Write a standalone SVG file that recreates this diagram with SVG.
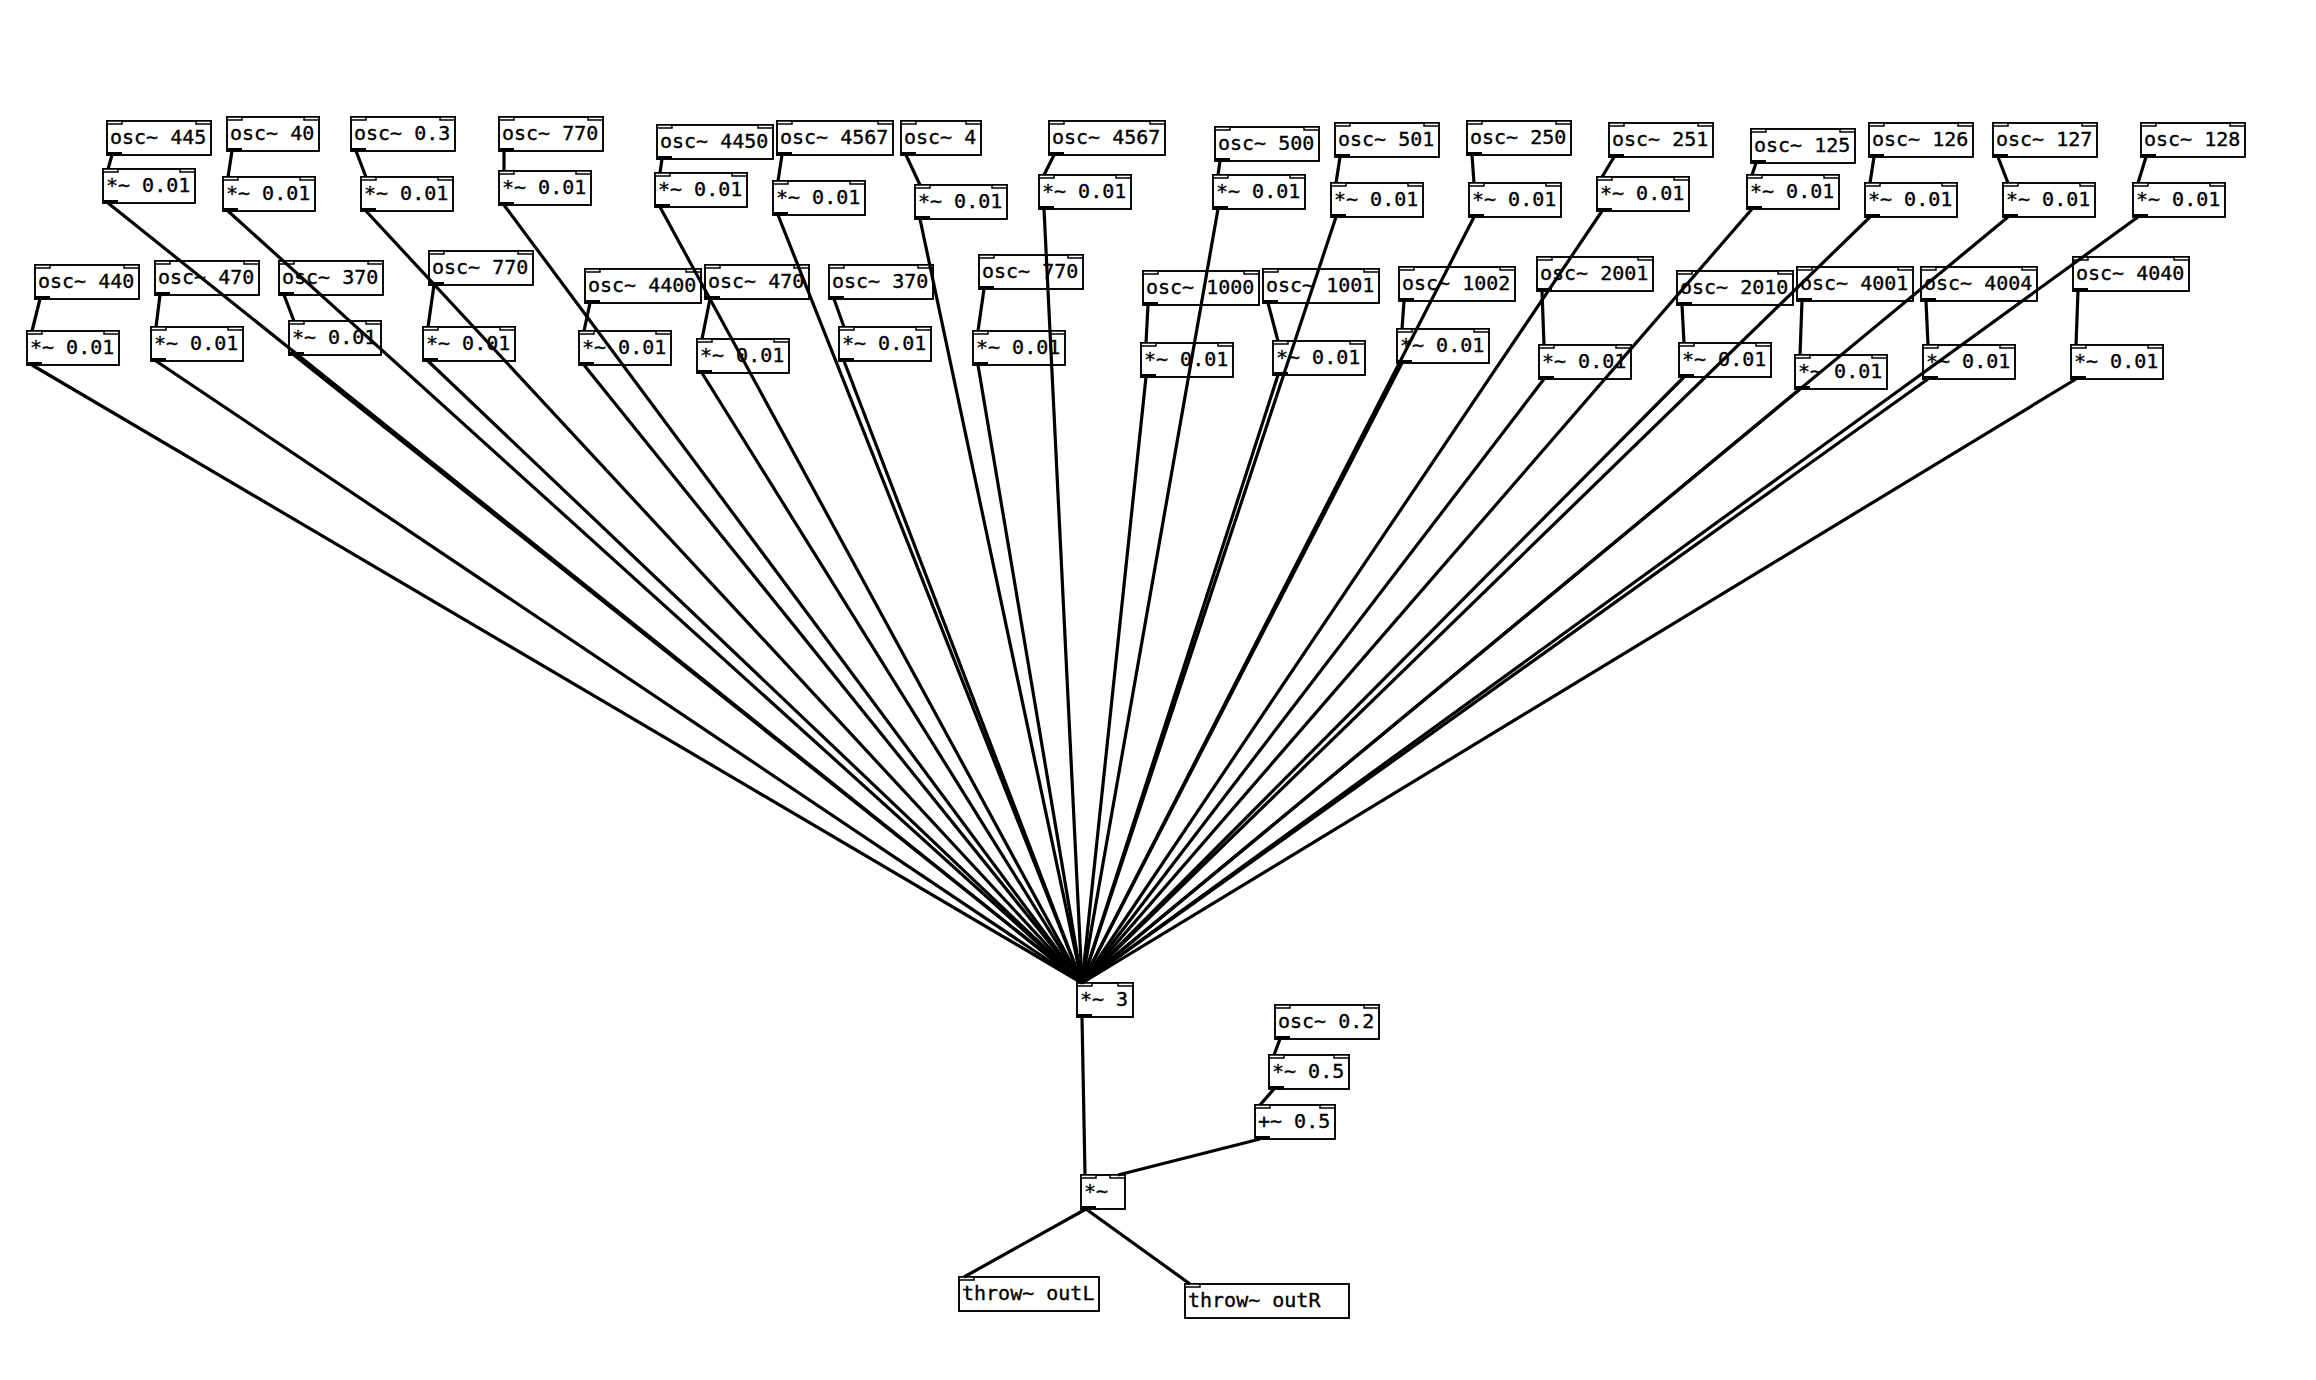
<svg xmlns="http://www.w3.org/2000/svg" width="2316" height="1380" viewBox="0 0 2316 1380">
<style>
.b{fill:#fff;stroke:#000;stroke-width:1.9}
.i{fill:#fff;stroke:#000;stroke-width:1.5}
.o{fill:#000}
text{font-family:"DejaVu Sans Mono","Liberation Mono",monospace;font-size:20px;fill:#000;stroke:#000;stroke-width:0.35}
#connections line{stroke:#000;stroke-width:3.2;stroke-linecap:butt}
</style>
<rect width="2316" height="1380" fill="#fff"/>
<g id="nodes">
<g id="n1" transform="translate(107,121)"><rect class="b" width="104" height="34"/><rect class="i" width="15" height="3"/><rect class="i" x="89" width="15" height="3"/><rect class="o" y="31" width="15" height="3"/><text x="3" y="23">osc~ 445</text></g>
<g id="m1" transform="translate(103,169)"><rect class="b" width="92" height="34"/><rect class="i" width="15" height="3"/><rect class="i" x="77" width="15" height="3"/><rect class="o" y="31" width="15" height="3"/><text x="3" y="23">*~ 0.01</text></g>
<g id="n2" transform="translate(227,117)"><rect class="b" width="92" height="34"/><rect class="i" width="15" height="3"/><rect class="i" x="77" width="15" height="3"/><rect class="o" y="31" width="15" height="3"/><text x="3" y="23">osc~ 40</text></g>
<g id="m2" transform="translate(223,177)"><rect class="b" width="92" height="34"/><rect class="i" width="15" height="3"/><rect class="i" x="77" width="15" height="3"/><rect class="o" y="31" width="15" height="3"/><text x="3" y="23">*~ 0.01</text></g>
<g id="n3" transform="translate(351,117)"><rect class="b" width="104" height="34"/><rect class="i" width="15" height="3"/><rect class="i" x="89" width="15" height="3"/><rect class="o" y="31" width="15" height="3"/><text x="3" y="23">osc~ 0.3</text></g>
<g id="m3" transform="translate(361,177)"><rect class="b" width="92" height="34"/><rect class="i" width="15" height="3"/><rect class="i" x="77" width="15" height="3"/><rect class="o" y="31" width="15" height="3"/><text x="3" y="23">*~ 0.01</text></g>
<g id="n4" transform="translate(499,117)"><rect class="b" width="104" height="34"/><rect class="i" width="15" height="3"/><rect class="i" x="89" width="15" height="3"/><rect class="o" y="31" width="15" height="3"/><text x="3" y="23">osc~ 770</text></g>
<g id="m4" transform="translate(499,171)"><rect class="b" width="92" height="34"/><rect class="i" width="15" height="3"/><rect class="i" x="77" width="15" height="3"/><rect class="o" y="31" width="15" height="3"/><text x="3" y="23">*~ 0.01</text></g>
<g id="n5" transform="translate(657,125)"><rect class="b" width="116" height="34"/><rect class="i" width="15" height="3"/><rect class="i" x="101" width="15" height="3"/><rect class="o" y="31" width="15" height="3"/><text x="3" y="23">osc~ 4450</text></g>
<g id="m5" transform="translate(655,173)"><rect class="b" width="92" height="34"/><rect class="i" width="15" height="3"/><rect class="i" x="77" width="15" height="3"/><rect class="o" y="31" width="15" height="3"/><text x="3" y="23">*~ 0.01</text></g>
<g id="n6" transform="translate(777,121)"><rect class="b" width="116" height="34"/><rect class="i" width="15" height="3"/><rect class="i" x="101" width="15" height="3"/><rect class="o" y="31" width="15" height="3"/><text x="3" y="23">osc~ 4567</text></g>
<g id="m6" transform="translate(773,181)"><rect class="b" width="92" height="34"/><rect class="i" width="15" height="3"/><rect class="i" x="77" width="15" height="3"/><rect class="o" y="31" width="15" height="3"/><text x="3" y="23">*~ 0.01</text></g>
<g id="n7" transform="translate(901,121)"><rect class="b" width="80" height="34"/><rect class="i" width="15" height="3"/><rect class="i" x="65" width="15" height="3"/><rect class="o" y="31" width="15" height="3"/><text x="3" y="23">osc~ 4</text></g>
<g id="m7" transform="translate(915,185)"><rect class="b" width="92" height="34"/><rect class="i" width="15" height="3"/><rect class="i" x="77" width="15" height="3"/><rect class="o" y="31" width="15" height="3"/><text x="3" y="23">*~ 0.01</text></g>
<g id="n8" transform="translate(1049,121)"><rect class="b" width="116" height="34"/><rect class="i" width="15" height="3"/><rect class="i" x="101" width="15" height="3"/><rect class="o" y="31" width="15" height="3"/><text x="3" y="23">osc~ 4567</text></g>
<g id="m8" transform="translate(1039,175)"><rect class="b" width="92" height="34"/><rect class="i" width="15" height="3"/><rect class="i" x="77" width="15" height="3"/><rect class="o" y="31" width="15" height="3"/><text x="3" y="23">*~ 0.01</text></g>
<g id="n9" transform="translate(1215,127)"><rect class="b" width="104" height="34"/><rect class="i" width="15" height="3"/><rect class="i" x="89" width="15" height="3"/><rect class="o" y="31" width="15" height="3"/><text x="3" y="23">osc~ 500</text></g>
<g id="m9" transform="translate(1213,175)"><rect class="b" width="92" height="34"/><rect class="i" width="15" height="3"/><rect class="i" x="77" width="15" height="3"/><rect class="o" y="31" width="15" height="3"/><text x="3" y="23">*~ 0.01</text></g>
<g id="n10" transform="translate(1335,123)"><rect class="b" width="104" height="34"/><rect class="i" width="15" height="3"/><rect class="i" x="89" width="15" height="3"/><rect class="o" y="31" width="15" height="3"/><text x="3" y="23">osc~ 501</text></g>
<g id="m10" transform="translate(1331,183)"><rect class="b" width="92" height="34"/><rect class="i" width="15" height="3"/><rect class="i" x="77" width="15" height="3"/><rect class="o" y="31" width="15" height="3"/><text x="3" y="23">*~ 0.01</text></g>
<g id="n11" transform="translate(1467,121)"><rect class="b" width="104" height="34"/><rect class="i" width="15" height="3"/><rect class="i" x="89" width="15" height="3"/><rect class="o" y="31" width="15" height="3"/><text x="3" y="23">osc~ 250</text></g>
<g id="m11" transform="translate(1469,183)"><rect class="b" width="92" height="34"/><rect class="i" width="15" height="3"/><rect class="i" x="77" width="15" height="3"/><rect class="o" y="31" width="15" height="3"/><text x="3" y="23">*~ 0.01</text></g>
<g id="n12" transform="translate(1609,123)"><rect class="b" width="104" height="34"/><rect class="i" width="15" height="3"/><rect class="i" x="89" width="15" height="3"/><rect class="o" y="31" width="15" height="3"/><text x="3" y="23">osc~ 251</text></g>
<g id="m12" transform="translate(1597,177)"><rect class="b" width="92" height="34"/><rect class="i" width="15" height="3"/><rect class="i" x="77" width="15" height="3"/><rect class="o" y="31" width="15" height="3"/><text x="3" y="23">*~ 0.01</text></g>
<g id="n13" transform="translate(1751,129)"><rect class="b" width="104" height="34"/><rect class="i" width="15" height="3"/><rect class="i" x="89" width="15" height="3"/><rect class="o" y="31" width="15" height="3"/><text x="3" y="23">osc~ 125</text></g>
<g id="m13" transform="translate(1747,175)"><rect class="b" width="92" height="34"/><rect class="i" width="15" height="3"/><rect class="i" x="77" width="15" height="3"/><rect class="o" y="31" width="15" height="3"/><text x="3" y="23">*~ 0.01</text></g>
<g id="n14" transform="translate(1869,123)"><rect class="b" width="104" height="34"/><rect class="i" width="15" height="3"/><rect class="i" x="89" width="15" height="3"/><rect class="o" y="31" width="15" height="3"/><text x="3" y="23">osc~ 126</text></g>
<g id="m14" transform="translate(1865,183)"><rect class="b" width="92" height="34"/><rect class="i" width="15" height="3"/><rect class="i" x="77" width="15" height="3"/><rect class="o" y="31" width="15" height="3"/><text x="3" y="23">*~ 0.01</text></g>
<g id="n15" transform="translate(1993,123)"><rect class="b" width="104" height="34"/><rect class="i" width="15" height="3"/><rect class="i" x="89" width="15" height="3"/><rect class="o" y="31" width="15" height="3"/><text x="3" y="23">osc~ 127</text></g>
<g id="m15" transform="translate(2003,183)"><rect class="b" width="92" height="34"/><rect class="i" width="15" height="3"/><rect class="i" x="77" width="15" height="3"/><rect class="o" y="31" width="15" height="3"/><text x="3" y="23">*~ 0.01</text></g>
<g id="n16" transform="translate(2141,123)"><rect class="b" width="104" height="34"/><rect class="i" width="15" height="3"/><rect class="i" x="89" width="15" height="3"/><rect class="o" y="31" width="15" height="3"/><text x="3" y="23">osc~ 128</text></g>
<g id="m16" transform="translate(2133,183)"><rect class="b" width="92" height="34"/><rect class="i" width="15" height="3"/><rect class="i" x="77" width="15" height="3"/><rect class="o" y="31" width="15" height="3"/><text x="3" y="23">*~ 0.01</text></g>
<g id="n17" transform="translate(35,265)"><rect class="b" width="104" height="34"/><rect class="i" width="15" height="3"/><rect class="i" x="89" width="15" height="3"/><rect class="o" y="31" width="15" height="3"/><text x="3" y="23">osc~ 440</text></g>
<g id="m17" transform="translate(27,331)"><rect class="b" width="92" height="34"/><rect class="i" width="15" height="3"/><rect class="i" x="77" width="15" height="3"/><rect class="o" y="31" width="15" height="3"/><text x="3" y="23">*~ 0.01</text></g>
<g id="n18" transform="translate(155,261)"><rect class="b" width="104" height="34"/><rect class="i" width="15" height="3"/><rect class="i" x="89" width="15" height="3"/><rect class="o" y="31" width="15" height="3"/><text x="3" y="23">osc~ 470</text></g>
<g id="m18" transform="translate(151,327)"><rect class="b" width="92" height="34"/><rect class="i" width="15" height="3"/><rect class="i" x="77" width="15" height="3"/><rect class="o" y="31" width="15" height="3"/><text x="3" y="23">*~ 0.01</text></g>
<g id="n19" transform="translate(279,261)"><rect class="b" width="104" height="34"/><rect class="i" width="15" height="3"/><rect class="i" x="89" width="15" height="3"/><rect class="o" y="31" width="15" height="3"/><text x="3" y="23">osc~ 370</text></g>
<g id="m19" transform="translate(289,321)"><rect class="b" width="92" height="34"/><rect class="i" width="15" height="3"/><rect class="i" x="77" width="15" height="3"/><rect class="o" y="31" width="15" height="3"/><text x="3" y="23">*~ 0.01</text></g>
<g id="n20" transform="translate(429,251)"><rect class="b" width="104" height="34"/><rect class="i" width="15" height="3"/><rect class="i" x="89" width="15" height="3"/><rect class="o" y="31" width="15" height="3"/><text x="3" y="23">osc~ 770</text></g>
<g id="m20" transform="translate(423,327)"><rect class="b" width="92" height="34"/><rect class="i" width="15" height="3"/><rect class="i" x="77" width="15" height="3"/><rect class="o" y="31" width="15" height="3"/><text x="3" y="23">*~ 0.01</text></g>
<g id="n21" transform="translate(585,269)"><rect class="b" width="116" height="34"/><rect class="i" width="15" height="3"/><rect class="i" x="101" width="15" height="3"/><rect class="o" y="31" width="15" height="3"/><text x="3" y="23">osc~ 4400</text></g>
<g id="m21" transform="translate(579,331)"><rect class="b" width="92" height="34"/><rect class="i" width="15" height="3"/><rect class="i" x="77" width="15" height="3"/><rect class="o" y="31" width="15" height="3"/><text x="3" y="23">*~ 0.01</text></g>
<g id="n22" transform="translate(705,265)"><rect class="b" width="104" height="34"/><rect class="i" width="15" height="3"/><rect class="i" x="89" width="15" height="3"/><rect class="o" y="31" width="15" height="3"/><text x="3" y="23">osc~ 470</text></g>
<g id="m22" transform="translate(697,339)"><rect class="b" width="92" height="34"/><rect class="i" width="15" height="3"/><rect class="i" x="77" width="15" height="3"/><rect class="o" y="31" width="15" height="3"/><text x="3" y="23">*~ 0.01</text></g>
<g id="n23" transform="translate(829,265)"><rect class="b" width="104" height="34"/><rect class="i" width="15" height="3"/><rect class="i" x="89" width="15" height="3"/><rect class="o" y="31" width="15" height="3"/><text x="3" y="23">osc~ 370</text></g>
<g id="m23" transform="translate(839,327)"><rect class="b" width="92" height="34"/><rect class="i" width="15" height="3"/><rect class="i" x="77" width="15" height="3"/><rect class="o" y="31" width="15" height="3"/><text x="3" y="23">*~ 0.01</text></g>
<g id="n24" transform="translate(979,255)"><rect class="b" width="104" height="34"/><rect class="i" width="15" height="3"/><rect class="i" x="89" width="15" height="3"/><rect class="o" y="31" width="15" height="3"/><text x="3" y="23">osc~ 770</text></g>
<g id="m24" transform="translate(973,331)"><rect class="b" width="92" height="34"/><rect class="i" width="15" height="3"/><rect class="i" x="77" width="15" height="3"/><rect class="o" y="31" width="15" height="3"/><text x="3" y="23">*~ 0.01</text></g>
<g id="n25" transform="translate(1143,271)"><rect class="b" width="116" height="34"/><rect class="i" width="15" height="3"/><rect class="i" x="101" width="15" height="3"/><rect class="o" y="31" width="15" height="3"/><text x="3" y="23">osc~ 1000</text></g>
<g id="m25" transform="translate(1141,343)"><rect class="b" width="92" height="34"/><rect class="i" width="15" height="3"/><rect class="i" x="77" width="15" height="3"/><rect class="o" y="31" width="15" height="3"/><text x="3" y="23">*~ 0.01</text></g>
<g id="n26" transform="translate(1263,269)"><rect class="b" width="116" height="34"/><rect class="i" width="15" height="3"/><rect class="i" x="101" width="15" height="3"/><rect class="o" y="31" width="15" height="3"/><text x="3" y="23">osc~ 1001</text></g>
<g id="m26" transform="translate(1273,341)"><rect class="b" width="92" height="34"/><rect class="i" width="15" height="3"/><rect class="i" x="77" width="15" height="3"/><rect class="o" y="31" width="15" height="3"/><text x="3" y="23">*~ 0.01</text></g>
<g id="n27" transform="translate(1399,267)"><rect class="b" width="116" height="34"/><rect class="i" width="15" height="3"/><rect class="i" x="101" width="15" height="3"/><rect class="o" y="31" width="15" height="3"/><text x="3" y="23">osc~ 1002</text></g>
<g id="m27" transform="translate(1397,329)"><rect class="b" width="92" height="34"/><rect class="i" width="15" height="3"/><rect class="i" x="77" width="15" height="3"/><rect class="o" y="31" width="15" height="3"/><text x="3" y="23">*~ 0.01</text></g>
<g id="n28" transform="translate(1537,257)"><rect class="b" width="116" height="34"/><rect class="i" width="15" height="3"/><rect class="i" x="101" width="15" height="3"/><rect class="o" y="31" width="15" height="3"/><text x="3" y="23">osc~ 2001</text></g>
<g id="m28" transform="translate(1539,345)"><rect class="b" width="92" height="34"/><rect class="i" width="15" height="3"/><rect class="i" x="77" width="15" height="3"/><rect class="o" y="31" width="15" height="3"/><text x="3" y="23">*~ 0.01</text></g>
<g id="n29" transform="translate(1677,271)"><rect class="b" width="116" height="34"/><rect class="i" width="15" height="3"/><rect class="i" x="101" width="15" height="3"/><rect class="o" y="31" width="15" height="3"/><text x="3" y="23">osc~ 2010</text></g>
<g id="m29" transform="translate(1679,343)"><rect class="b" width="92" height="34"/><rect class="i" width="15" height="3"/><rect class="i" x="77" width="15" height="3"/><rect class="o" y="31" width="15" height="3"/><text x="3" y="23">*~ 0.01</text></g>
<g id="n30" transform="translate(1797,267)"><rect class="b" width="116" height="34"/><rect class="i" width="15" height="3"/><rect class="i" x="101" width="15" height="3"/><rect class="o" y="31" width="15" height="3"/><text x="3" y="23">osc~ 4001</text></g>
<g id="m30" transform="translate(1795,355)"><rect class="b" width="92" height="34"/><rect class="i" width="15" height="3"/><rect class="i" x="77" width="15" height="3"/><rect class="o" y="31" width="15" height="3"/><text x="3" y="23">*~ 0.01</text></g>
<g id="n31" transform="translate(1921,267)"><rect class="b" width="116" height="34"/><rect class="i" width="15" height="3"/><rect class="i" x="101" width="15" height="3"/><rect class="o" y="31" width="15" height="3"/><text x="3" y="23">osc~ 4004</text></g>
<g id="m31" transform="translate(1923,345)"><rect class="b" width="92" height="34"/><rect class="i" width="15" height="3"/><rect class="i" x="77" width="15" height="3"/><rect class="o" y="31" width="15" height="3"/><text x="3" y="23">*~ 0.01</text></g>
<g id="n32" transform="translate(2073,257)"><rect class="b" width="116" height="34"/><rect class="i" width="15" height="3"/><rect class="i" x="101" width="15" height="3"/><rect class="o" y="31" width="15" height="3"/><text x="3" y="23">osc~ 4040</text></g>
<g id="m32" transform="translate(2071,345)"><rect class="b" width="92" height="34"/><rect class="i" width="15" height="3"/><rect class="i" x="77" width="15" height="3"/><rect class="o" y="31" width="15" height="3"/><text x="3" y="23">*~ 0.01</text></g>
<g id="mul3" transform="translate(1077,983)"><rect class="b" width="56" height="34"/><rect class="i" width="15" height="3"/><rect class="i" x="41" width="15" height="3"/><rect class="o" y="31" width="15" height="3"/><text x="3" y="23">*~ 3</text></g>
<g id="osc02" transform="translate(1275,1005)"><rect class="b" width="104" height="34"/><rect class="i" width="15" height="3"/><rect class="i" x="89" width="15" height="3"/><rect class="o" y="31" width="15" height="3"/><text x="3" y="23">osc~ 0.2</text></g>
<g id="mul05" transform="translate(1269,1055)"><rect class="b" width="80" height="34"/><rect class="i" width="15" height="3"/><rect class="i" x="65" width="15" height="3"/><rect class="o" y="31" width="15" height="3"/><text x="3" y="23">*~ 0.5</text></g>
<g id="add05" transform="translate(1255,1105)"><rect class="b" width="80" height="34"/><rect class="i" width="15" height="3"/><rect class="i" x="65" width="15" height="3"/><rect class="o" y="31" width="15" height="3"/><text x="3" y="23">+~ 0.5</text></g>
<g id="mulmix" transform="translate(1081,1175)"><rect class="b" width="44" height="34"/><rect class="i" width="15" height="3"/><rect class="i" x="29" width="15" height="3"/><rect class="o" y="31" width="15" height="3"/><text x="3" y="23">*~</text></g>
<g id="throwL" transform="translate(959,1277)"><rect class="b" width="140" height="34"/><rect class="i" width="15" height="3"/><text x="3" y="23">throw~ outL</text></g>
<g id="throwR" transform="translate(1185,1284)"><rect class="b" width="164" height="34"/><rect class="i" width="15" height="3"/><text x="3" y="23">throw~ outR</text></g>
</g>
<g id="connections">
<line x1="112" y1="155" x2="108" y2="169"/>
<line x1="232" y1="151" x2="228" y2="177"/>
<line x1="356" y1="151" x2="366" y2="177"/>
<line x1="504" y1="151" x2="504" y2="171"/>
<line x1="662" y1="159" x2="660" y2="173"/>
<line x1="782" y1="155" x2="778" y2="181"/>
<line x1="906" y1="155" x2="920" y2="185"/>
<line x1="1054" y1="155" x2="1044" y2="175"/>
<line x1="1220" y1="161" x2="1218" y2="175"/>
<line x1="1340" y1="157" x2="1336" y2="183"/>
<line x1="1472" y1="155" x2="1474" y2="183"/>
<line x1="1614" y1="157" x2="1602" y2="177"/>
<line x1="1756" y1="163" x2="1752" y2="175"/>
<line x1="1874" y1="157" x2="1870" y2="183"/>
<line x1="1998" y1="157" x2="2008" y2="183"/>
<line x1="2146" y1="157" x2="2138" y2="183"/>
<line x1="40" y1="299" x2="32" y2="331"/>
<line x1="160" y1="295" x2="156" y2="327"/>
<line x1="284" y1="295" x2="294" y2="321"/>
<line x1="434" y1="285" x2="428" y2="327"/>
<line x1="590" y1="303" x2="584" y2="331"/>
<line x1="710" y1="299" x2="702" y2="339"/>
<line x1="834" y1="299" x2="844" y2="327"/>
<line x1="984" y1="289" x2="978" y2="331"/>
<line x1="1148" y1="305" x2="1146" y2="343"/>
<line x1="1268" y1="303" x2="1278" y2="341"/>
<line x1="1404" y1="301" x2="1402" y2="329"/>
<line x1="1542" y1="291" x2="1544" y2="345"/>
<line x1="1682" y1="305" x2="1684" y2="343"/>
<line x1="1802" y1="301" x2="1800" y2="355"/>
<line x1="1926" y1="301" x2="1928" y2="345"/>
<line x1="2078" y1="291" x2="2076" y2="345"/>
<line x1="108" y1="203" x2="1082" y2="983"/>
<line x1="228" y1="211" x2="1082" y2="983"/>
<line x1="366" y1="211" x2="1082" y2="983"/>
<line x1="504" y1="205" x2="1082" y2="983"/>
<line x1="660" y1="207" x2="1082" y2="983"/>
<line x1="778" y1="215" x2="1082" y2="983"/>
<line x1="920" y1="219" x2="1082" y2="983"/>
<line x1="1044" y1="209" x2="1082" y2="983"/>
<line x1="1218" y1="209" x2="1082" y2="983"/>
<line x1="1336" y1="217" x2="1082" y2="983"/>
<line x1="1474" y1="217" x2="1082" y2="983"/>
<line x1="1602" y1="211" x2="1082" y2="983"/>
<line x1="1752" y1="209" x2="1082" y2="983"/>
<line x1="1870" y1="217" x2="1082" y2="983"/>
<line x1="2008" y1="217" x2="1082" y2="983"/>
<line x1="2138" y1="217" x2="1082" y2="983"/>
<line x1="32" y1="365" x2="1082" y2="983"/>
<line x1="156" y1="361" x2="1082" y2="983"/>
<line x1="294" y1="355" x2="1082" y2="983"/>
<line x1="428" y1="361" x2="1082" y2="983"/>
<line x1="584" y1="365" x2="1082" y2="983"/>
<line x1="702" y1="373" x2="1082" y2="983"/>
<line x1="844" y1="361" x2="1082" y2="983"/>
<line x1="978" y1="365" x2="1082" y2="983"/>
<line x1="1146" y1="377" x2="1082" y2="983"/>
<line x1="1278" y1="375" x2="1082" y2="983"/>
<line x1="1402" y1="363" x2="1082" y2="983"/>
<line x1="1544" y1="379" x2="1082" y2="983"/>
<line x1="1684" y1="377" x2="1082" y2="983"/>
<line x1="1800" y1="389" x2="1082" y2="983"/>
<line x1="1928" y1="379" x2="1082" y2="983"/>
<line x1="2076" y1="379" x2="1082" y2="983"/>
<line x1="1082" y1="1017" x2="1085" y2="1175"/>
<line x1="1280" y1="1039" x2="1274" y2="1055"/>
<line x1="1274" y1="1089" x2="1260" y2="1105"/>
<line x1="1260" y1="1139" x2="1118" y2="1175"/>
<line x1="1086" y1="1209" x2="964" y2="1277"/>
<line x1="1086" y1="1209" x2="1190" y2="1284"/>
</g>
</svg>
